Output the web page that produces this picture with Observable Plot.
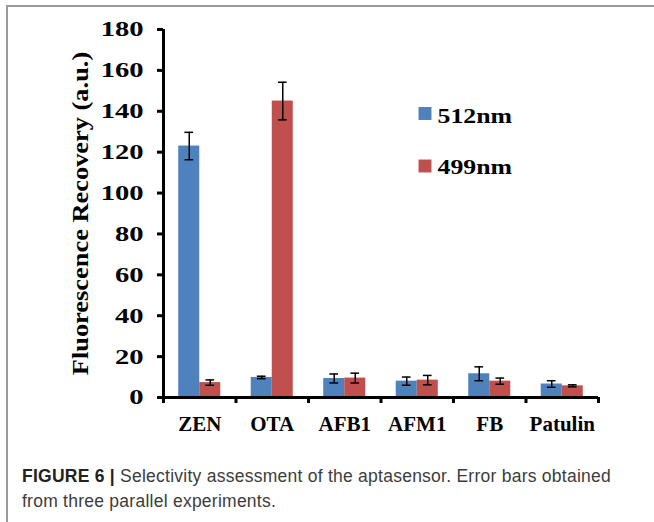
<!DOCTYPE html>
<html><head><meta charset="utf-8">
<script src="https://cdn.jsdelivr.net/npm/d3@7"></script>
<script src="https://cdn.jsdelivr.net/npm/@observablehq/plot@0.6"></script>
<style>
body{margin:0;background:#fff;width:654px;height:522px;overflow:hidden;position:relative;}
#frame{position:absolute;left:6px;top:5px;right:-4px;bottom:-4px;border-top:2px solid #9a9a9a;border-left:2px solid #9a9a9a;}
#chart{position:absolute;left:0;top:0;}
#caption{position:absolute;left:22px;top:463.5px;width:630px;font-family:"Liberation Sans",Arial,sans-serif;font-size:17.5px;letter-spacing:0.25px;line-height:25.4px;color:#3c3c3c;white-space:nowrap;}
#caption b{color:#222;}
</style></head><body>
<div id="frame"></div>
<div id="chart"></div>
<div id="caption"><b>FIGURE 6 |</b> Selectivity assessment of the aptasensor. Error bars obtained<br>from three parallel experiments.</div>
<script>
const categories = ["ZEN", "OTA", "AFB1", "AFM1", "FB", "Patulin"];
const series = ["512nm", "499nm"];
const values512 = [123, 9.8, 9.3, 8.0, 11.6, 6.6];
const errors512 = [6.7, 0.6, 2.2, 2.0, 3.4, 1.6];
const values499 = [7.3, 145, 9.5, 8.5, 8.0, 5.7];
const errors499 = [1.3, 9.2, 2.4, 2.3, 1.5, 0.5];
const yTicks = [0, 20, 40, 60, 80, 100, 120, 140, 160, 180];
const yLabel = "Fluorescence Recovery (a.u.)";

const colors = ["#4f81bd", "#c0504d"];
const barW = 0.29;   // bar width in category units
const capW = 0.06;   // half width of error caps

const rows = [];
categories.forEach((c, i) => {
  [values512, values499].forEach((vals, s) => {
    const errs = s === 0 ? errors512 : errors499;
    const x1 = i + 0.5 + (s === 0 ? -barW : 0);
    rows.push({cat: c, series: series[s], value: vals[i], err: errs[i], x1, x2: x1 + barW, xc: x1 + barW / 2});
  });
});

const serif = "'Liberation Serif','Times New Roman',serif";

const plot = Plot.plot({
  width: 654,
  height: 450,
  marginLeft: 163,
  marginRight: 56,
  marginTop: 29,
  marginBottom: 53,
  style: {fontFamily: serif, fontWeight: "bold", color: "#000", background: "transparent", overflow: "visible"},
  x: {type: "linear", domain: [0, categories.length]},
  y: {domain: [0, 180]},
  color: {domain: series, range: colors},
  marks: [
    Plot.rectY(rows, {x1: "x1", x2: "x2", y1: 0, y2: "value", fill: "series"}),
    Plot.ruleX(rows, {x: "xc", y1: d => d.value - d.err, y2: d => d.value + d.err, stroke: "#000", strokeWidth: 1.5}),
    Plot.ruleY(rows, {y: d => d.value + d.err, x1: d => d.xc - capW, x2: d => d.xc + capW, stroke: "#000", strokeWidth: 1.5}),
    Plot.ruleY(rows, {y: d => d.value - d.err, x1: d => d.xc - capW, x2: d => d.xc + capW, stroke: "#000", strokeWidth: 1.5}),
    Plot.axisY({ticks: yTicks, tickSize: 6, tickPadding: 14, fontSize: 21.5, fontWeight: "bold", strokeWidth: 3, label: null}),
    Plot.axisX({ticks: d3.range(0, categories.length + 1), tickSize: 6, strokeWidth: 3, tickFormat: () => "", label: null}),
    Plot.ruleX([0], {y1: 0, y2: 180, stroke: "#000", strokeWidth: 3}),
    Plot.ruleY([0], {x1: 0, x2: categories.length, stroke: "#000", strokeWidth: 3}),
    Plot.text(categories, {x: (d, i) => i + 0.5, y: 0, text: d => d, lineAnchor: "top", dy: 19, fontSize: 21, fontWeight: "bold", fill: "#000"}),
    Plot.text([yLabel], {frameAnchor: "left", text: d => d, rotate: -90, textAnchor: "middle", dx: -83, fontSize: 24, fontWeight: "bold", fill: "#000"}),
    ...series.map((s, i) => Plot.dot([s], {frameAnchor: "top-left", dx: 261.5, dy: 84 + i * 52.5, symbol: "square", r: 7.3, fill: colors[i], stroke: null})),
    ...series.map((s, i) => Plot.text([s], {frameAnchor: "top-left", dx: 274, dy: 87 + i * 50.5, text: d => d, textAnchor: "start", lineAnchor: "middle", fontSize: 21.5, fontWeight: "bold", fill: "#000"}))
  ]
});

document.getElementById("chart").appendChild(plot);

// horizontally stretch some serif texts (the reference glyphs are wider)
function stretch(el, s) {
  const bb = el.getBBox();
  const anchor = getComputedStyle(el).textAnchor || el.getAttribute("text-anchor") || "start";
  const ax = anchor === "end" ? bb.x + bb.width : anchor === "middle" ? bb.x + bb.width / 2 : bb.x;
  const t = el.getAttribute("transform") || "";
  el.setAttribute("transform", `${t} translate(${ax},0) scale(${s},1) translate(${-ax},0)`);
}
d3.select(plot).selectAll("text").each(function() {
  const t = this.textContent;
  if (yTicks.map(String).includes(t)) stretch(this, 1.33);
  else if (series.includes(t)) stretch(this, 1.2);
  else if (t === yLabel) stretch(this, 1.1);
});
</script>
</body></html>
